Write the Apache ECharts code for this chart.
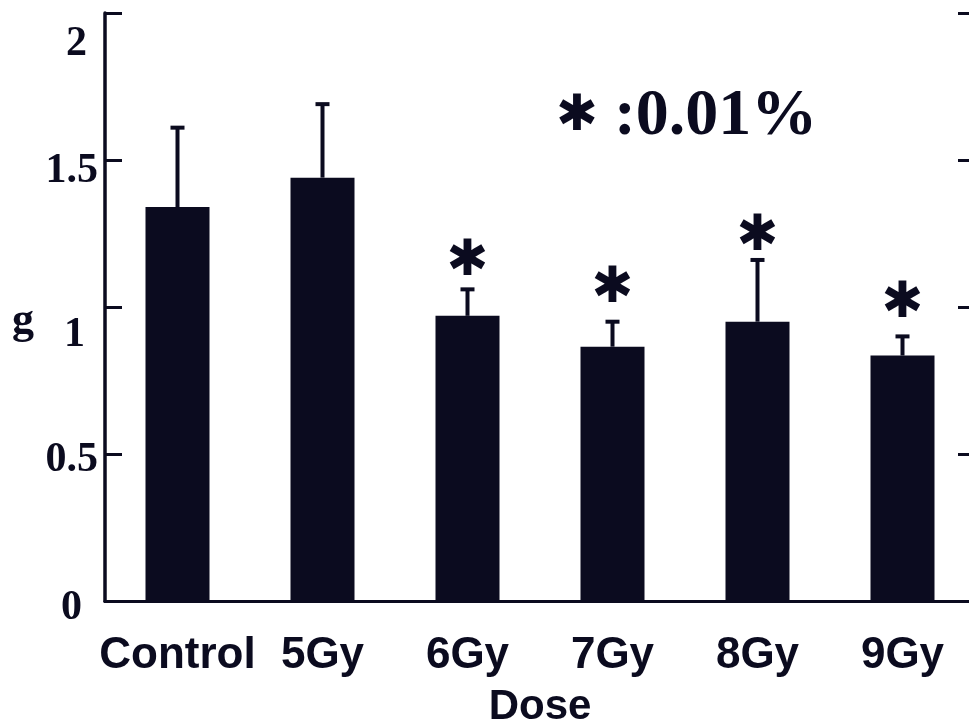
<!DOCTYPE html>
<html>
<head>
<meta charset="utf-8">
<script src="https://cdn.jsdelivr.net/npm/echarts@6/dist/echarts.min.js"></script>
<style>html,body{margin:0;padding:0;background:#fff}#c{width:969px;height:728px}</style>
</head>
<body>
<div id="c"></div>
<script>
const categories = ['Control', '5Gy', '6Gy', '7Gy', '8Gy', '9Gy'];
const means = [1.34, 1.44, 0.97, 0.865, 0.95, 0.835];
const sd = [0.27, 0.25, 0.09, 0.085, 0.21, 0.065];
const sigMarks = [null, null, 1.165, 1.075, 1.25, 1.025];
const yTicks = ['0', '0.5', '1', '1.5', '2'];
const legendText = ':0.01%';
const xName = 'Dose';
const yName = 'g';

const INK = '#0b0b1f';
const SERIF = '"Liberation Serif","Times New Roman",serif';
const SANS = '"Liberation Sans",Arial,sans-serif';

const labelKey = {'0':'l0','0.5':'l05','1':'l1','1.5':'l15','2':'l2'};
const baseLbl = {fontFamily: SERIF, fontWeight: 'bold', fontSize: 42, color: INK};
const rich = {
  l0: Object.assign({padding: [14, 16, 0, 0]}, baseLbl),
  l05: Object.assign({padding: [12, 0, 0, 0]}, baseLbl),
  l1: Object.assign({padding: [56, 13, 0, 0]}, baseLbl),
  l15: Object.assign({padding: [22, 0, 0, 0]}, baseLbl),
  l2: Object.assign({padding: [62, 11, 0, 0]}, baseLbl)
};

const chart = echarts.init(document.getElementById('c'), null, {renderer: 'canvas'});
chart.setOption({
  animation: false,
  backgroundColor: '#fff',
  title: {
    text: '{a|✱}{b|' + legendText + '}',
    left: 551, top: 79,
    textStyle: {
      rich: {
        a: {fontFamily: '"DejaVu Sans",sans-serif', fontSize: 50, color: INK, padding: [0, 16, 0, 0]},
        b: {fontFamily: SERIF, fontWeight: 'bold', fontSize: 66, color: INK}
      }
    }
  },
  graphic: [{
    type: 'text', left: 12, top: 300,
    style: {text: yName, fontFamily: SERIF, fontWeight: 'bold', fontSize: 44, fill: INK}
  }],
  grid: {left: 105, top: 13, width: 870, height: 588, containLabel: false, outerBoundsMode: 'none'},
  xAxis: [{
    type: 'category', data: categories, position: 'bottom',
    axisLine: {lineStyle: {color: INK, width: 3}},
    axisTick: {show: false},
    axisLabel: {fontFamily: SANS, fontWeight: 'bold', fontSize: 44, color: INK, margin: 33, interval: 0},
    name: xName, nameLocation: 'middle', nameGap: 85,
    nameTextStyle: {fontFamily: SANS, fontWeight: 'bold', fontSize: 42, color: INK}
  }, {
    type: 'category', data: categories, position: 'top',
    axisLine: {lineStyle: {color: INK, width: 3}},
    axisTick: {show: false}, axisLabel: {show: false}
  }],
  yAxis: [{
    type: 'value', min: 0, max: 2, interval: 0.5, position: 'left',
    axisLine: {show: true, lineStyle: {color: INK, width: 3.5}},
    axisTick: {show: true, inside: true, length: 17, lineStyle: {color: INK, width: 3}},
    splitLine: {show: false},
    axisLabel: {
      margin: 7,
      formatter: function (v) {
        const s = yTicks.find(t => Math.abs(parseFloat(t) - v) < 1e-6);
        return s === undefined ? '' : '{' + labelKey[s] + '|' + s + '}';
      },
      rich: rich
    }
  }, {
    type: 'value', min: 0, max: 2, interval: 0.5, position: 'right',
    axisLine: {show: true, lineStyle: {color: INK, width: 3}},
    axisTick: {show: true, inside: true, length: 17, lineStyle: {color: INK, width: 3}},
    splitLine: {show: false},
    axisLabel: {show: false}
  }],
  series: [{
    type: 'bar', data: means, barWidth: 64,
    itemStyle: {color: INK}
  }, {
    type: 'custom',
    data: means.map((m, i) => [i, m, m + sd[i]]),
    renderItem: function (params, api) {
      const x = api.coord([api.value(0), api.value(1)])[0];
      const y0 = api.coord([api.value(0), api.value(1)])[1];
      const y1 = api.coord([api.value(0), api.value(2)])[1];
      return {
        type: 'group',
        children: [
          {type: 'line', shape: {x1: x, y1: y0, x2: x, y2: y1}, style: {stroke: INK, lineWidth: 4}},
          {type: 'line', shape: {x1: x - 7, y1: y1, x2: x + 7, y2: y1}, style: {stroke: INK, lineWidth: 4}}
        ]
      };
    },
    z: 3
  }, {
    type: 'scatter',
    data: sigMarks.map((v, i) => v === null ? null : [i, v]).filter(d => d),
    symbolSize: 0,
    itemStyle: {color: INK, opacity: 1},
    label: {
      show: true, position: 'inside', formatter: '✱', offset: [0, 4],
      fontFamily: '"DejaVu Sans",sans-serif', fontSize: 50, color: INK,
      textBorderWidth: 0, opacity: 1
    },
    z: 4
  }]
});
</script>
</body>
</html>
